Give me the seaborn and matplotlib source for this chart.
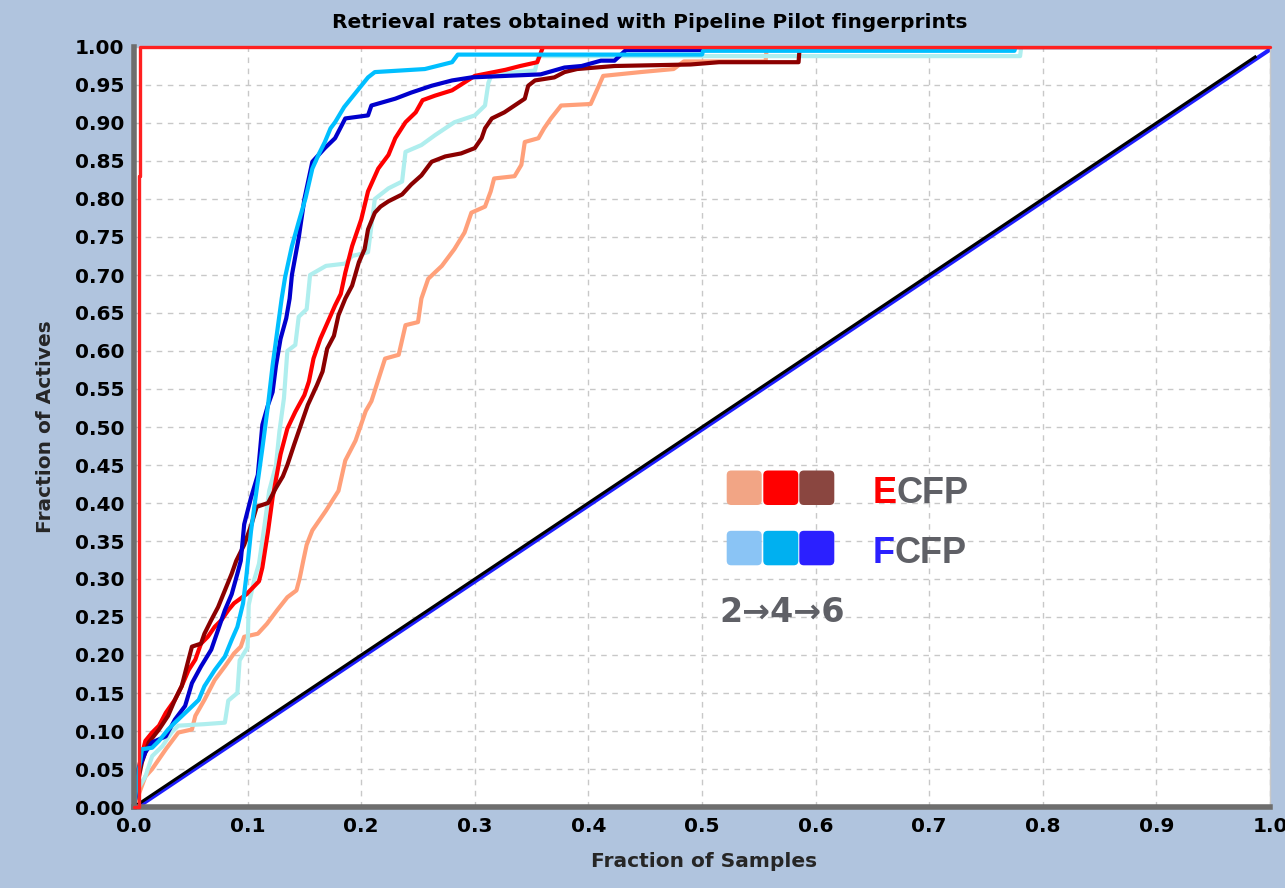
import matplotlib
matplotlib.use("Agg")
import matplotlib.pyplot as plt
from matplotlib.patches import FancyBboxPatch
from matplotlib.transforms import offset_copy
import pandas as pd
import seaborn as sns

# ---- retrieval curves (fraction of samples screened vs. fraction of actives found) ----
ecfp2_x = [0.000, 0.010, 0.016, 0.022, 0.028, 0.039, 0.051, 0.054, 0.062, 0.071, 0.080, 0.088, 0.094, 0.097, 0.109,
           0.117, 0.126, 0.135, 0.143, 0.146, 0.149, 0.152, 0.157, 0.169, 0.180, 0.186, 0.195, 0.204, 0.209, 0.221,
           0.233, 0.239, 0.250, 0.253, 0.259, 0.271, 0.282, 0.291, 0.297, 0.309, 0.314, 0.317, 0.335, 0.341, 0.344,
           0.356, 0.361, 0.367, 0.376, 0.402, 0.408, 0.413, 0.446, 0.475, 0.484, 0.556, 0.557, 1.000]
ecfp2_y = [0.000, 0.040, 0.050, 0.063, 0.076, 0.098, 0.102, 0.120, 0.141, 0.167, 0.185, 0.202, 0.211, 0.224, 0.228,
           0.241, 0.259, 0.276, 0.285, 0.302, 0.324, 0.345, 0.364, 0.390, 0.416, 0.456, 0.482, 0.521, 0.534, 0.590,
           0.595, 0.634, 0.638, 0.669, 0.695, 0.712, 0.734, 0.756, 0.782, 0.790, 0.810, 0.827, 0.830, 0.845, 0.875,
           0.880, 0.893, 0.906, 0.923, 0.925, 0.945, 0.962, 0.967, 0.971, 0.981, 0.981, 1.000, 1.000]

ecfp4_x = [0.000, 0.003, 0.006, 0.010, 0.016, 0.022, 0.028, 0.036, 0.042, 0.048, 0.054, 0.059, 0.065, 0.071, 0.077,
           0.083, 0.088, 0.099, 0.110, 0.113, 0.118, 0.122, 0.129, 0.135, 0.142, 0.150, 0.154, 0.158, 0.164, 0.172,
           0.177, 0.182, 0.186, 0.192, 0.200, 0.206, 0.215, 0.224, 0.230, 0.239, 0.248, 0.254, 0.265, 0.280, 0.300,
           0.327, 0.340, 0.355, 0.360, 1.000]
ecfp4_y = [0.000, 0.045, 0.063, 0.087, 0.098, 0.107, 0.124, 0.141, 0.159, 0.180, 0.194, 0.215, 0.224, 0.237, 0.246,
           0.259, 0.268, 0.280, 0.297, 0.315, 0.363, 0.407, 0.464, 0.498, 0.520, 0.542, 0.560, 0.590, 0.616, 0.643,
           0.660, 0.675, 0.703, 0.738, 0.773, 0.810, 0.840, 0.858, 0.880, 0.901, 0.914, 0.930, 0.936, 0.943, 0.962,
           0.970, 0.975, 0.980, 1.000, 1.000]

ecfp6_x = [0.000, 0.003, 0.007, 0.013, 0.022, 0.030, 0.036, 0.042, 0.048, 0.051, 0.059, 0.062, 0.068, 0.074, 0.080,
           0.086, 0.090, 0.097, 0.103, 0.108, 0.118, 0.125, 0.131, 0.135, 0.141, 0.147, 0.153, 0.161, 0.166, 0.170,
           0.176, 0.180, 0.186, 0.192, 0.198, 0.203, 0.206, 0.212, 0.217, 0.224, 0.236, 0.244, 0.253, 0.262, 0.274,
           0.288, 0.300, 0.306, 0.309, 0.315, 0.326, 0.335, 0.344, 0.347, 0.353, 0.370, 0.379, 0.390, 0.423, 0.490,
           0.515, 0.585, 0.586, 1.000]
ecfp6_y = [0.000, 0.030, 0.059, 0.085, 0.102, 0.120, 0.141, 0.159, 0.194, 0.211, 0.215, 0.228, 0.246, 0.263, 0.285,
           0.307, 0.324, 0.345, 0.370, 0.395, 0.400, 0.420, 0.435, 0.450, 0.477, 0.503, 0.529, 0.555, 0.573, 0.603,
           0.620, 0.647, 0.669, 0.686, 0.717, 0.734, 0.760, 0.782, 0.790, 0.797, 0.806, 0.819, 0.831, 0.849, 0.856,
           0.860, 0.867, 0.880, 0.893, 0.906, 0.914, 0.923, 0.932, 0.949, 0.956, 0.960, 0.967, 0.971, 0.975, 0.977,
           0.980, 0.980, 1.000, 1.000]

fcfp2_x = [0.000, 0.002, 0.010, 0.016, 0.025, 0.033, 0.039, 0.062, 0.080, 0.083, 0.091, 0.093, 0.100, 0.101, 0.106,
           0.110, 0.115, 0.119, 0.125, 0.128, 0.132, 0.135, 0.142, 0.145, 0.152, 0.155, 0.169, 0.186, 0.192, 0.206,
           0.212, 0.224, 0.236, 0.239, 0.253, 0.265, 0.282, 0.300, 0.309, 0.312, 0.315, 0.353, 0.356, 0.780, 0.781,
           1.000]
fcfp2_y = [0.000, 0.020, 0.040, 0.067, 0.080, 0.098, 0.107, 0.109, 0.111, 0.140, 0.150, 0.193, 0.210, 0.266, 0.300,
           0.320, 0.372, 0.416, 0.450, 0.494, 0.538, 0.600, 0.608, 0.645, 0.655, 0.700, 0.712, 0.715, 0.725, 0.730,
           0.800, 0.814, 0.823, 0.862, 0.871, 0.884, 0.901, 0.910, 0.923, 0.953, 0.964, 0.969, 0.988, 0.988, 1.000,
           1.000]

fcfp4_x = [0.000, 0.002, 0.004, 0.007, 0.016, 0.022, 0.030, 0.036, 0.048, 0.057, 0.062, 0.071, 0.080, 0.086, 0.091,
           0.096, 0.099, 0.103, 0.107, 0.113, 0.118, 0.122, 0.126, 0.130, 0.133, 0.139, 0.145, 0.151, 0.157, 0.163,
           0.168, 0.173, 0.177, 0.185, 0.192, 0.206, 0.212, 0.256, 0.280, 0.285, 0.500, 0.501, 0.775, 0.776, 1.000]
fcfp4_y = [0.000, 0.024, 0.045, 0.076, 0.078, 0.087, 0.102, 0.111, 0.128, 0.141, 0.159, 0.180, 0.198, 0.220, 0.237,
           0.268, 0.305, 0.363, 0.407, 0.472, 0.529, 0.581, 0.625, 0.669, 0.697, 0.738, 0.770, 0.801, 0.840, 0.860,
           0.875, 0.893, 0.901, 0.921, 0.934, 0.960, 0.967, 0.971, 0.980, 0.990, 0.990, 0.995, 0.995, 1.000, 1.000]

fcfp6_x = [0.000, 0.002, 0.004, 0.010, 0.016, 0.028, 0.036, 0.045, 0.051, 0.059, 0.068, 0.074, 0.080, 0.086, 0.091,
           0.094, 0.097, 0.103, 0.109, 0.113, 0.118, 0.122, 0.125, 0.129, 0.134, 0.137, 0.139, 0.145, 0.150, 0.157,
           0.168, 0.177, 0.186, 0.206, 0.209, 0.230, 0.244, 0.262, 0.280, 0.297, 0.358, 0.379, 0.394, 0.411, 0.423,
           0.433, 0.500, 0.501, 1.000]
fcfp6_y = [0.000, 0.020, 0.050, 0.072, 0.085, 0.093, 0.115, 0.133, 0.163, 0.185, 0.207, 0.233, 0.259, 0.280, 0.307,
           0.324, 0.372, 0.407, 0.437, 0.503, 0.529, 0.546, 0.581, 0.616, 0.643, 0.669, 0.700, 0.749, 0.800, 0.849,
           0.867, 0.880, 0.906, 0.910, 0.923, 0.932, 0.940, 0.949, 0.956, 0.960, 0.964, 0.973, 0.975, 0.982, 0.982,
           0.996, 0.996, 1.000, 1.000]

# ideal ranking and random baseline
perfect_x = [0.000, 0.004, 0.005, 1.000]
perfect_y = [0.000, 0.830, 1.000, 1.000]
random_x = [0.000, 1.000]
random_y = [0.000, 1.000]
random_black_x = [0.000, 0.988]
random_black_y = [0.000, 0.988]

series_names = ["ECFP2", "FCFP2", "ECFP4", "ECFP6", "FCFP6", "FCFP4"]
series_data = {
    "ECFP2": (ecfp2_x, ecfp2_y),
    "FCFP2": (fcfp2_x, fcfp2_y),
    "ECFP4": (ecfp4_x, ecfp4_y),
    "ECFP6": (ecfp6_x, ecfp6_y),
    "FCFP6": (fcfp6_x, fcfp6_y),
    "FCFP4": (fcfp4_x, fcfp4_y),
}
series_colors = {
    "ECFP2": "#FFA07A",
    "ECFP4": "#FF0000",
    "ECFP6": "#8B0000",
    "FCFP2": "#AFEEEE",
    "FCFP4": "#00BFFF",
    "FCFP6": "#0000CD",
}

# legend swatches and labels
ecfp_swatches = ["#F2A585", "#FF0000", "#8A4640"]
fcfp_swatches = ["#8AC4F5", "#00B0F0", "#2B20FF"]
tick_y = [round(0.05 * i, 2) for i in range(21)]
tick_x = [round(0.1 * i, 1) for i in range(11)]

frames = []
for name in series_names:
    xs, ys = series_data[name]
    frames.append(pd.DataFrame({"x": xs, "y": ys, "series": name}))
df = pd.concat(frames, ignore_index=True)

sns.set_style("white")
plt.rcParams["font.family"] = ["DejaVu Sans"]

W, H = 1285, 888
fig = plt.figure(figsize=(W / 100, H / 100), dpi=100, facecolor="#B0C4DE")
ax_l, ax_r, ax_t, ax_b = 134, 1270, 47, 807
ax = fig.add_axes([ax_l / W, 1 - ax_b / H, (ax_r - ax_l) / W, (ax_b - ax_t) / H])
ax.set_facecolor("white")

ax.set_xlim(0, 1)
ax.set_ylim(0, 1)
ax.set_xticks(tick_x)
ax.set_yticks(tick_y)
ax.set_xticklabels([f"{v:.1f}" for v in tick_x])
ax.set_yticklabels([f"{v:.2f}" for v in tick_y])
ax.grid(True, color="#C8C8C8", linestyle=(0, (4, 4)), linewidth=1)
ax.set_axisbelow(True)

sns.lineplot(data=df, x="x", y="y", hue="series", hue_order=series_names, palette=series_colors,
             estimator=None, sort=False, linewidth=3.0, legend=False, ax=ax)

# random baseline: blue underlay slightly offset, black on top
shifted = offset_copy(ax.transData, fig=fig, x=1.5, y=-1.5, units="dots")
ax.plot(random_x, random_y, color="#1E1EFF", linewidth=3.0, transform=shifted, solid_capstyle="butt")
ax.plot(random_black_x, random_black_y, color="black", linewidth=2.2, solid_capstyle="butt")

# ideal retrieval curve
ax.plot(perfect_x, perfect_y, color="#FF2020", linewidth=2.4, drawstyle="steps-post", clip_on=False, zorder=4)

for side in ["left", "bottom"]:
    ax.spines[side].set_color("#6E6E6E")
    ax.spines[side].set_linewidth(4)
ax.spines["right"].set_color("#C8C8C8")
ax.spines["right"].set_linewidth(1)
ax.spines["top"].set_visible(False)

ax.tick_params(axis="both", which="major", direction="out", length=4, width=1.5, color="#333333",
               labelsize=14.5, pad=3, labelcolor="black")
for lab in ax.get_xticklabels() + ax.get_yticklabels():
    lab.set_fontweight("bold")

ax.set_xlabel("Fraction of Samples", fontsize=14.5, fontweight="bold")
ax.set_ylabel("Fraction of Actives", fontsize=14.5, fontweight="bold")
ax.xaxis.set_label_coords((704 - ax_l) / (ax_r - ax_l), (ax_b - 852) / (ax_b - ax_t))
ax.yaxis.set_label_coords((55 - ax_l) / (ax_r - ax_l), 0.5)

fig.text(650 / W, 1 - 22 / H, "Retrieval rates obtained with Pipeline Pilot fingerprints",
         ha="center", va="center", fontsize=14.5, fontweight="bold", color="black")

# legend block drawn inside the axes
aw, ah = ax_r - ax_l, ax_b - ax_t


def ax_pt(px, py):
    return (px - ax_l) / aw, (ax_b - py) / ah


sw_w, sw_h = 35 / aw, 34.5 / ah
sw_left = [726.7, 763.3, 799.3]
for row_bottom, colors in [(505.0, ecfp_swatches), (565.3, fcfp_swatches)]:
    for lx, c in zip(sw_left, colors):
        x0, y0 = ax_pt(lx, row_bottom)
        patch = FancyBboxPatch((x0, y0), sw_w, sw_h, boxstyle="round,pad=0,rounding_size=0.004",
                               mutation_aspect=aw / ah, transform=ax.transAxes,
                               facecolor=c, edgecolor="none", zorder=5)
        ax.add_patch(patch)

label_font = dict(fontsize=26, fontweight="bold", family=["Liberation Sans", "DejaVu Sans"], zorder=6)
grey = "#5F6066"
for py, initial, initial_color in [(503.3, "E", "#FF0000"), (563.3, "F", "#2B20FF")]:
    tx, ty = ax_pt(872.7, py)
    first = ax.text(tx, ty, initial, color=initial_color, transform=ax.transAxes,
                    va="baseline", ha="left", **label_font)
    ax.annotate("CFP", xy=(1, 0), xycoords=first, va="bottom", ha="left", color=grey, **label_font)

tx, ty = ax_pt(719, 622)
ax.text(tx, ty, "2\u21924\u21926", color=grey, transform=ax.transAxes, va="baseline", ha="left",
        fontsize=24, fontweight="bold", family=["DejaVu Sans"], zorder=6)

fig.savefig("out.png", dpi=100, facecolor=fig.get_facecolor())
